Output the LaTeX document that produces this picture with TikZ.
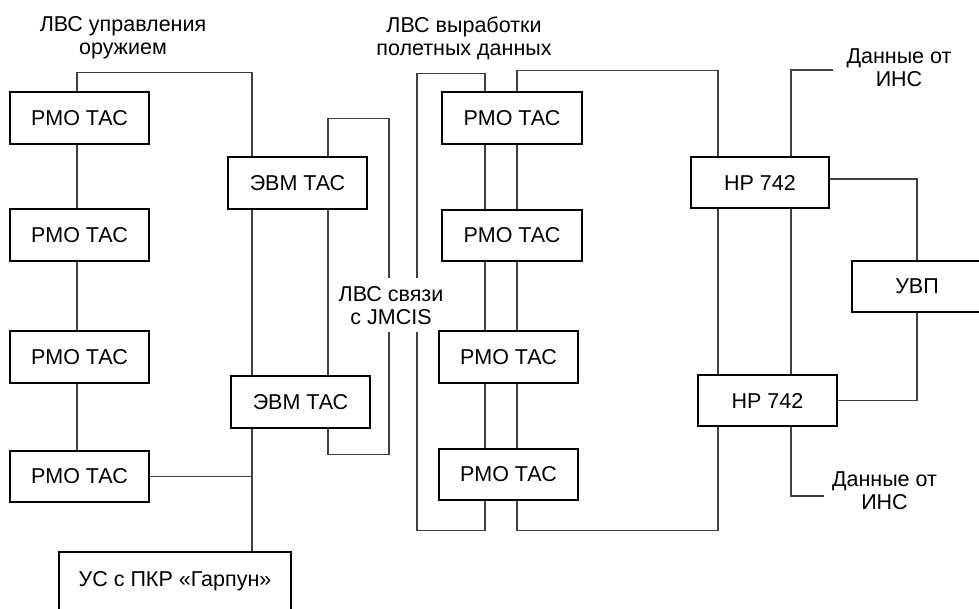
\documentclass[tikz,border=0pt]{standalone}
\usepackage{fontspec}
\setmainfont{Liberation Sans}
\begin{document}
\begin{tikzpicture}[x=1pt,y=-1pt,
  box/.style={draw=black,line width=1.3pt,rectangle,inner sep=0pt,minimum height=52pt,minimum width=139pt,font=\fontsize{21.5}{23}\selectfont},
  lbl/.style={inner sep=0pt,align=center,font=\fontsize{21.5}{23}\selectfont},
  wire/.style={draw=black!75,line width=1.4pt}]
\useasboundingbox (0,0) rectangle (979,608);
\clip (0,0) rectangle (979,608);
% bus x positions
\coordinate (xa) at (77,0);
\coordinate (xb) at (252,0);
\coordinate (xc) at (328,0);
\coordinate (xf) at (485,0);
\coordinate (xg) at (517,0);
\coordinate (xh) at (718,0);
\coordinate (xi) at (791,0);
\coordinate (jmA) at (389,278);
\coordinate (jmB) at (389,332);
\coordinate (lvA) at (417,278);
\coordinate (lvB) at (417,332);
\coordinate (insA) at (833,70);
\coordinate (insB) at (824,496);
% left column
\node[box] (r1) at (79.5,118) {РМО ТАС};
\node[box] (r2) at (79.5,235) {РМО ТАС};
\node[box] (r3) at (79.5,357) {РМО ТАС};
\node[box,minimum height=51pt] (r4) at (79.5,476.5) {РМО ТАС};
\node[box] (e1) at (297.5,183) {ЭВМ ТАС};
\node[box] (e2) at (300.5,402) {ЭВМ ТАС};
\node[box,minimum width=232pt,minimum height=58pt] (us) at (175,581) {УС с ПКР «Гарпун»};
% middle column
\node[box,minimum width=140pt] (m1) at (512,118) {РМО ТАС};
\node[box,minimum width=140pt,minimum height=51pt] (m2) at (512,235.5) {РМО ТАС};
\node[box] (m3) at (508.5,357) {РМО ТАС};
\node[box,minimum height=51pt] (m4) at (508.5,474.5) {РМО ТАС};
% right column
\node[box,minimum width=138pt,minimum height=51pt] (h1) at (760,182.5) {HP 742};
\node[box,minimum height=51pt] (h2) at (767.5,400.5) {HP 742};
\node[box,minimum width=130pt,minimum height=51pt] (u) at (917,286.5) {УВП};
% labels
\node[lbl] (l1) at (123,38) {ЛВС управления\\оружием};
\node[lbl] (l2) at (464,38) {ЛВС выработки\\полетных данных};
\node[lbl] (l3) at (391,306) {ЛВС связи\\с JMCIS};
\node[lbl] (l4) at (899,68) {Данные от\\ИНС};
\node[lbl] (l5) at (884.5,491) {Данные от\\ИНС};
% left wiring
\draw[wire] (r1.south -| xa) -- (r2.north -| xa);
\draw[wire] (r2.south -| xa) -- (r3.north -| xa);
\draw[wire] (r3.south -| xa) -- (r4.north -| xa);
\draw[wire] (r1.north -| xa) -- ++(0,-19) -| (e1.north -| xb);
\draw[wire] (e1.south -| xb) -- (e2.north -| xb);
\draw[wire] (e1.south -| xc) -- (e2.north -| xc);
\draw[wire] (e1.north -| xc) -- ++(0,-38) -| (jmA);
\draw[wire] (e2.south -| xc) -- ++(0,26) -| (jmB);
\draw[wire] (e2.south -| xb) -- (us.north -| xb);
\draw[wire] (r4.east) -- (r4.east -| xb);
% middle wiring
\draw[wire] (m1.south -| xf) -- (m2.north -| xf);
\draw[wire] (m2.south -| xf) -- (m3.north -| xf);
\draw[wire] (m3.south -| xf) -- (m4.north -| xf);
\draw[wire] (m1.south -| xg) -- (m2.north -| xg);
\draw[wire] (m2.south -| xg) -- (m3.north -| xg);
\draw[wire] (m3.south -| xg) -- (m4.north -| xg);
\draw[wire] (m1.north -| xf) -- ++(0,-18) -| (lvA);
\draw[wire] (m4.south -| xf) -- ++(0,30) -| (lvB);
\draw[wire] (m1.north -| xg) -- ++(0,-21) -| (h1.north -| xh);
\draw[wire] (m4.south -| xg) -- ++(0,30) -| (h2.south -| xh);
% right wiring
\draw[wire] (h1.south -| xh) -- (h2.north -| xh);
\draw[wire] (h1.south -| xi) -- (h2.north -| xi);
\draw[wire] (h1.north -| xi) |- (insA);
\draw[wire] (h2.south -| xi) |- (insB);
\draw[wire] ([yshift=3.5pt]h1.east) -| (u.north);
\draw[wire] (u.south) |- (h2.east);
\end{tikzpicture}
\end{document}
